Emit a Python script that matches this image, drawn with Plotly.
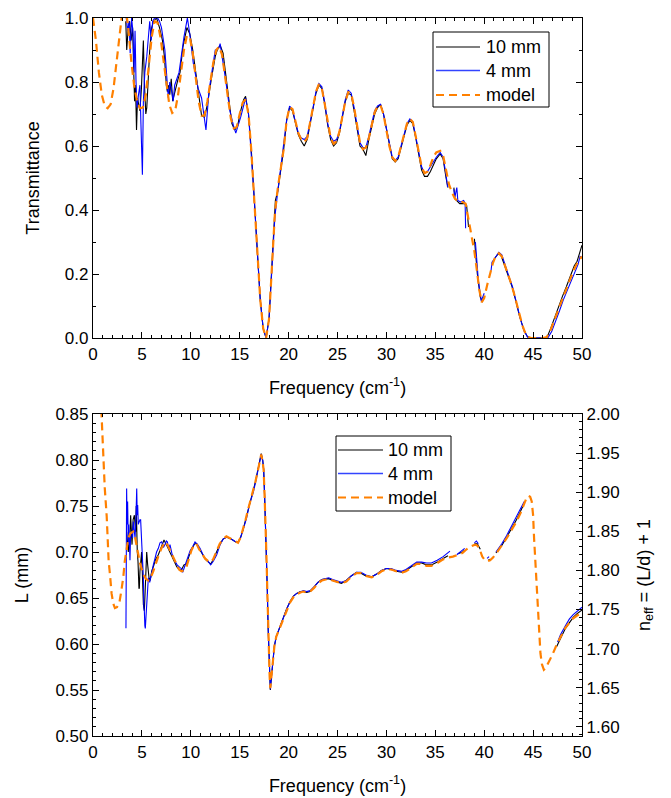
import plotly.graph_objects as go

# ---------------- Top panel: Transmittance ----------------
t_model_f = [0.0, 0.3, 0.6, 0.9, 1.2, 1.5, 1.8, 2.1, 2.4, 2.7, 3.0, 3.3, 3.6, 3.9, 4.2, 4.5, 4.8, 5.1, 5.4, 5.7,
             6.0, 6.3, 6.6, 6.9, 7.2, 7.5, 7.8, 8.1, 8.4, 8.7, 9.0, 9.3, 9.6, 9.9, 10.2, 10.5, 10.8, 11.1, 11.4, 11.7,
             12.0, 12.3, 12.6, 12.9, 13.2, 13.5, 13.8, 14.1, 14.4, 14.7, 15.0, 15.3, 15.6, 15.9, 16.2, 16.5, 16.8,
             17.1, 17.4, 17.7, 18.0, 18.3, 18.6, 18.9, 19.2, 19.5, 19.8, 20.1, 20.4, 20.7, 21.0, 21.3, 21.6, 21.9,
             22.2, 22.5, 22.8, 23.1, 23.4, 23.7, 24.0, 24.3, 24.6, 24.9, 25.2, 25.5, 25.8, 26.1, 26.4, 26.7, 27.0,
             27.3, 27.6, 27.9, 28.2, 28.5, 28.8, 29.1, 29.4, 29.7, 30.0, 30.3, 30.6, 30.9, 31.2, 31.5, 31.8, 32.1,
             32.4, 32.7, 33.0, 33.3, 33.6, 33.9, 34.2, 34.5, 34.8, 35.1, 35.5, 35.8, 36.1, 36.4, 36.7, 37.0, 37.4,
             37.8, 38.1, 38.4, 38.7, 39.0, 39.3, 39.5, 39.75, 40.0, 40.3, 40.6, 40.9, 41.2, 41.5, 41.8, 42.1, 42.4,
             42.7, 43.0, 43.3, 43.6, 43.9, 44.2, 44.5, 44.8, 45.2, 45.6, 46.0, 46.4, 46.8, 47.1, 47.4, 47.7, 48.0,
             48.4, 48.8, 49.2, 49.6, 50.0]
t_model_v = [1.00, 0.93, 0.83, 0.76, 0.725, 0.718, 0.73, 0.78, 0.86, 0.95, 1.02, 1.04, 0.97, 0.87, 0.79, 0.74,
             0.718, 0.72, 0.76, 0.85, 0.94, 0.99, 0.985, 0.94, 0.87, 0.79, 0.73, 0.703, 0.71, 0.76, 0.83, 0.90,
             0.945, 0.94, 0.89, 0.81, 0.74, 0.695, 0.695, 0.74, 0.80, 0.86, 0.90, 0.91, 0.885, 0.82, 0.75, 0.685,
             0.655, 0.66, 0.70, 0.735, 0.745, 0.70, 0.58, 0.43, 0.27, 0.12, 0.03, 0.00, 0.06, 0.22, 0.39, 0.47,
             0.53, 0.59, 0.68, 0.722, 0.715, 0.675, 0.64, 0.62, 0.612, 0.625, 0.67, 0.72, 0.77, 0.793, 0.78, 0.73,
             0.67, 0.625, 0.607, 0.615, 0.645, 0.695, 0.74, 0.768, 0.765, 0.72, 0.66, 0.61, 0.59, 0.595, 0.625,
             0.67, 0.705, 0.725, 0.727, 0.70, 0.65, 0.60, 0.565, 0.553, 0.565, 0.60, 0.64, 0.67, 0.685, 0.675,
             0.63, 0.58, 0.535, 0.515, 0.52, 0.54, 0.565, 0.58, 0.585, 0.57, 0.52, 0.48, 0.455, 0.436, 0.425,
             0.425, 0.42, 0.37, 0.325, 0.27, 0.20, 0.15, 0.112, 0.125, 0.165, 0.20, 0.235, 0.258, 0.265, 0.255,
             0.23, 0.20, 0.175, 0.145, 0.11, 0.07, 0.04, 0.015, 0.003, 0.0, 0.0, 0.0, 0.0, 0.003, 0.025, 0.05,
             0.075, 0.095, 0.12, 0.155, 0.185, 0.215, 0.24, 0.255]

t_10mm_f = [3.35, 3.45, 3.6, 3.75, 3.9, 4.05, 4.15, 4.25, 4.35, 4.45, 4.55, 4.65, 4.8, 4.95, 5.05, 5.15, 5.25,
            5.4, 5.5, 5.65, 5.8, 6.0, 6.2, 6.5, 6.8, 7.1, 7.3, 7.5, 7.6, 7.75, 7.85, 8.0, 8.15, 8.3, 8.5, 8.7,
            8.9, 9.2, 9.6, 9.9, 10.2, 10.5, 10.8, 11.1, 11.4, 11.7, 12.1, 12.5, 12.7, 13.0, 13.3, 13.6, 13.9,
            14.2, 14.5, 14.8, 15.1, 15.4, 15.6, 15.9, 16.2, 16.5, 16.8, 17.1, 17.4, 17.7, 18.0, 18.3, 18.55,
            18.65, 18.9, 19.2, 19.5, 19.8, 20.1, 20.4, 20.7, 21.0, 21.3, 21.6, 21.9, 22.2, 22.5, 22.8, 23.1,
            23.4, 23.7, 24.0, 24.3, 24.6, 24.9, 25.2, 25.5, 25.8, 26.1, 26.4, 26.7, 27.0, 27.3, 27.6, 27.9,
            28.2, 28.5, 28.8, 29.1, 29.4, 29.7, 30.0, 30.3, 30.6, 30.9, 31.2, 31.5, 31.8, 32.1, 32.4, 32.7,
            33.0, 33.3, 33.6, 33.9, 34.2, 34.5, 34.8, 35.1, 35.5, 35.8, 36.1, 36.3, None, 36.9, 37.0, 37.5,
            38.0, 38.2, 38.4, None, 39.0, 39.3, 39.6, 39.8, 40.0, None, 41.1, 41.4, 41.7, 42.0, 42.4, 42.8,
            43.2, 43.6, 44.0, 44.4, 44.8, 45.6, 46.4, 46.8, 47.2, 47.6, 48.0, 48.4, 48.8, 49.2, 49.5, 49.8, 50.0]
t_10mm_v = [0.99, 0.90, 0.97, 0.99, 0.93, 0.97, 0.85, 0.74, 0.79, 0.65, 0.75, 0.73, 0.71, 0.78, 0.85, 0.93,
            0.80, 0.70, 0.72, 0.82, 0.90, 0.97, 0.99, 1.0, 0.97, 0.93, 0.88, 0.79, 0.77, 0.79, 0.76, 0.81, 0.74,
            0.76, 0.79, 0.81, 0.83, 0.91, 0.97, 0.95, 0.90, 0.83, 0.76, 0.695, 0.69, 0.73, 0.81, 0.88, 0.90,
            0.915, 0.89, 0.82, 0.74, 0.67, 0.65, 0.665, 0.71, 0.745, 0.755, 0.70, 0.58, 0.43, 0.27, 0.12, 0.03,
            0.0, 0.06, 0.22, 0.36, 0.43, 0.46, 0.52, 0.59, 0.68, 0.72, 0.71, 0.67, 0.635, 0.615, 0.60, 0.62,
            0.665, 0.72, 0.765, 0.79, 0.78, 0.73, 0.665, 0.62, 0.60, 0.61, 0.64, 0.69, 0.74, 0.765, 0.76, 0.71,
            0.65, 0.60, 0.59, 0.57, 0.62, 0.665, 0.70, 0.72, 0.73, 0.70, 0.65, 0.60, 0.56, 0.55, 0.56, 0.595,
            0.635, 0.665, 0.68, 0.67, 0.625, 0.57, 0.525, 0.505, 0.505, 0.52, 0.54, 0.56, 0.575, 0.56, 0.50,
            0.47, None, 0.47, 0.435, 0.42, 0.42, 0.415, 0.347, None, 0.31, 0.20, 0.128, 0.112, 0.13, None, 0.25,
            0.262, 0.26, 0.235, 0.20, 0.165, 0.12, 0.07, 0.03, 0.005, 0.0, 0.0, 0.0, 0.03, 0.065, 0.10, 0.13,
            0.16, 0.19, 0.225, 0.24, 0.27, 0.29]

t_4mm_f = [3.4, 3.55, 3.7, 3.8, 3.95, 4.1, 4.2, 4.3, 4.4, 4.5, 4.65, 4.8, 4.9, 5.05, 5.15, 5.3, 5.5, 5.65, 5.8,
           5.95, 6.1, 6.3, 6.6, 6.8, 7.0, 7.35, 7.55, 7.7, 7.85, 8.0, 8.2, 8.35, 8.8, 9.3, 9.65, 9.9, 10.25,
           10.75, 11.1, 11.55, 11.85, 12.35, 12.5, 12.85, 13.0, 13.5, 14.0, 14.35, 14.6, 15.1, 15.6, 15.9, 16.2,
           16.5, 16.8, 17.1, 17.4, 17.7, 18.0, 18.3, 18.6, 18.9, 19.2, 19.5, 19.8, 20.1, 20.4, 20.7, 21.0, 21.3,
           21.6, 21.9, 22.2, 22.5, 22.8, 23.1, 23.4, 23.7, 24.0, 24.3, 24.6, 24.9, 25.2, 25.5, 25.8, 26.1,
           26.4, 26.7, 27.0, 27.3, 27.6, 27.9, 28.2, 28.5, 28.8, 29.1, 29.4, 29.7, 30.0, 30.3, 30.6, 30.9,
           31.2, 31.5, 31.8, 32.1, 32.4, 32.7, 33.0, 33.3, 33.6, 33.9, 34.2, 34.5, 34.8, 35.1, 35.5, 35.8,
           36.1, 36.25, None, 36.9, 37.0, 37.2, 37.3, 37.6, 37.9, 38.05, 38.1, None, 39.1, 39.4, 39.7, 39.9,
           40.0, None, 40.7, 40.8, 41.1, 41.5, 41.8, 42.1, 42.5, 42.9, 43.3, 43.7, 44.1, 44.5, 45.5, 46.5,
           46.9, 47.3, 47.7, 48.1, 48.5, 48.9, 49.3, 49.6, 49.8, 50.0]
t_4mm_v = [1.0, 0.96, 0.99, 0.89, 1.0, 0.95, 0.83, 0.96, 0.80, 0.72, 0.76, 0.79, 0.67, 0.51, 0.74, 0.83, 0.88,
           0.93, 0.99, 0.93, 0.99, 1.0, 1.0, 0.99, 0.97, 0.90, 0.81, 0.75, 0.80, 0.78, 0.74, 0.79, 0.83, 0.94,
           1.0, 0.95, 0.86, 0.78, 0.75, 0.65, 0.77, 0.88, 0.90, 0.905, 0.92, 0.82, 0.71, 0.665, 0.64, 0.69,
           0.75, 0.70, 0.58, 0.43, 0.27, 0.12, 0.03, 0.0, 0.06, 0.23, 0.38, 0.46, 0.53, 0.595, 0.68, 0.725,
           0.715, 0.675, 0.64, 0.625, 0.62, 0.63, 0.67, 0.72, 0.77, 0.795, 0.785, 0.735, 0.67, 0.63, 0.615,
           0.62, 0.645, 0.695, 0.745, 0.775, 0.765, 0.72, 0.66, 0.61, 0.595, 0.595, 0.63, 0.67, 0.71, 0.725,
           0.73, 0.70, 0.655, 0.60, 0.565, 0.555, 0.565, 0.60, 0.64, 0.67, 0.685, 0.675, 0.63, 0.58, 0.535,
           0.515, 0.52, 0.535, 0.55, 0.565, 0.58, 0.565, 0.51, 0.472, None, 0.465, 0.44, 0.47, 0.43, 0.425,
           0.43, 0.42, 0.343, None, 0.30, 0.18, 0.115, 0.13, 0.14, None, 0.21, 0.237, 0.25, 0.268, 0.26,
           0.235, 0.195, 0.16, 0.11, 0.06, 0.02, 0.0, 0.0, 0.0, 0.02, 0.05, 0.085, 0.12, 0.15, 0.18, 0.21,
           0.23, 0.255, 0.25]

# ---------------- Bottom panel: L (mm) ----------------
l_model_f = [0.85, 0.9, 1.05, 1.2, 1.4, 1.6, 1.75, 1.9, 2.07, 2.24, 2.45, 2.7, 2.9, 3.1, 3.25, 3.4, 3.6, 3.8,
             4.1, 4.3, 4.5, 4.8, 5.1, 5.4, 5.65, 5.9, 6.16, 6.4, 6.67, 7.0, 7.35, 7.6, 7.86, 8.2, 8.54, 8.8,
             9.05, 9.3, 9.56, 9.8, 10.07, 10.35, 10.58, 10.85, 11.1, 11.45, 11.77, 12.05, 12.28, 12.6, 12.96,
             13.3, 13.64, 14.0, 14.3, 14.6, 14.83, 15.1, 15.34, 15.6, 15.85, 16.1, 16.36, 16.6, 16.87, 17.05,
             17.2, 17.35, 17.45, 17.55, 17.65, 17.75, 17.82, 17.9, 17.99, 18.06, 18.13, 18.25, 18.4, 18.55,
             18.74, 19.1, 19.42, 19.8, 20.14, 20.5, 20.83, 21.2, 21.5, 21.85, 22.2, 22.6, 23.0, 23.4, 23.8,
             24.1, 24.5, 25.0, 25.4, 25.9, 26.4, 26.96, 27.4, 27.9, 28.5, 29.0, 29.5, 30.0, 30.5, 31.0, 31.56,
             32.0, 32.5, 33.1, 33.6, 34.1, 34.6, 35.2, 35.8, 36.3, 36.8, 37.35, 37.8, 38.2, 38.6, 39.06, 39.3,
             39.57, 39.8, 40.08, 40.35, 40.6, 40.9, 41.27, 41.8, 42.3, 42.8, 43.3, 43.7, 44.0, 44.3, 44.5,
             44.7, 44.86, 45.0, 45.1, 45.25, 45.37, 45.5, 45.6, 45.75, 45.9, 46.1, 46.3, 46.56, 47.0, 47.4,
             47.8, 48.26, 48.7, 49.1, 49.5, 49.86, 50.0]
l_model_v = [0.855, 0.84, 0.804, 0.77, 0.739, 0.69, 0.674, 0.655, 0.644, 0.639, 0.64, 0.645, 0.658, 0.673,
             0.69, 0.703, 0.714, 0.72, 0.722, 0.716, 0.705, 0.688, 0.677, 0.671, 0.669, 0.672, 0.679, 0.687,
             0.695, 0.704, 0.711, 0.708, 0.702, 0.694, 0.686, 0.681, 0.679, 0.680, 0.684, 0.693, 0.702, 0.708,
             0.709, 0.703, 0.699, 0.693, 0.690, 0.689, 0.692, 0.700, 0.709, 0.714, 0.717, 0.715, 0.713, 0.711,
             0.710, 0.716, 0.724, 0.735, 0.746, 0.756, 0.764, 0.776, 0.789, 0.799, 0.806, 0.798, 0.789, 0.760,
             0.731, 0.690, 0.659, 0.620, 0.586, 0.565, 0.552, 0.565, 0.586, 0.598, 0.608, 0.618, 0.626, 0.637,
             0.645, 0.651, 0.654, 0.656, 0.657, 0.656, 0.657, 0.661, 0.666, 0.669, 0.670, 0.671, 0.669, 0.667,
             0.666, 0.668, 0.673, 0.677, 0.677, 0.674, 0.6725, 0.675, 0.679, 0.6815, 0.681, 0.679, 0.6775,
             0.679, 0.683, 0.687, 0.687, 0.685, 0.685, 0.688, 0.692, 0.694, 0.695, 0.697, 0.699, 0.703, 0.706,
             0.708, 0.707, 0.702, 0.695, 0.691, 0.690, 0.691, 0.694, 0.699, 0.707, 0.715, 0.724, 0.733, 0.742,
             0.751, 0.758, 0.761, 0.760, 0.755, 0.740, 0.715, 0.685, 0.660, 0.630, 0.606, 0.590, 0.578, 0.572,
             0.574, 0.579, 0.589, 0.599, 0.608, 0.617, 0.623, 0.628, 0.631, 0.633, 0.634]

l_10mm_f = [3.44, 3.52, 3.61, 3.7, 3.78, 3.85, 3.92, 3.99, 4.1, 4.23, 4.3, 4.36, 4.42, 4.47, 4.53, 4.6, 4.64,
            4.7, 4.74, 4.8, 4.9, 4.97, 5.04, 5.1, 5.15, 5.25, 5.32, 5.38, 5.45, 5.49, 5.59, 5.73, 5.85, 6.0,
            6.2, 6.4, 6.68, 6.95, 7.26, 7.5, 7.87, 8.2, 8.56, 8.8, 9.07, 9.3, 9.56, 9.8, 10.07, 10.4, 10.6,
            10.9, 11.2, 11.5, 11.8, 12.05, 12.3, 12.6, 13.0, 13.3, 13.64, 14.0, 14.3, 14.6, 14.85, 15.1, 15.34,
            15.6, 15.85, 16.1, 16.36, 16.6, 16.87, 17.05, 17.2, 17.35, 17.45, 17.55, 17.65, 17.75, 17.82, 17.9,
            17.99, 18.06, 18.13, 18.25, 18.4, 18.55, 18.74, 19.1, 19.42, 19.8, 20.14, 20.5, 20.83, 21.2, 21.5,
            21.85, 22.2, 22.6, 23.0, 23.4, 23.8, 24.1, 24.5, 25.0, 25.4, 25.9, 26.4, 26.96, 27.4, 27.9, 28.5,
            29.0, 29.5, 30.0, 30.5, 31.0, 31.56, 32.0, 32.5, 33.1, 33.6, 34.1, 34.6, 35.2, 35.8, 36.3, None,
            37.3, 37.8, 38.0, None, 39.0, 39.3, 39.6, None, 40.4, 40.6, None, 41.2, 41.8, 42.3, 42.8, 43.3,
            43.7, 44.1, None, 47.4, 47.8, 48.26, 48.7, 49.1, 49.5, 50.0]
l_10mm_v = [0.722, 0.705, 0.700, 0.715, 0.720, 0.740, 0.715, 0.708, 0.735, 0.740, 0.730, 0.722, 0.750, 0.711,
            0.700, 0.690, 0.679, 0.660, 0.661, 0.679, 0.690, 0.700, 0.679, 0.660, 0.643, 0.636, 0.655, 0.661,
            0.690, 0.700, 0.686, 0.672, 0.669, 0.679, 0.685, 0.692, 0.697, 0.705, 0.713, 0.708, 0.700, 0.692,
            0.684, 0.681, 0.681, 0.686, 0.687, 0.695, 0.703, 0.709, 0.709, 0.703, 0.698, 0.692, 0.689, 0.687,
            0.692, 0.700, 0.709, 0.714, 0.716, 0.715, 0.713, 0.711, 0.711, 0.716, 0.724, 0.735, 0.746, 0.756,
            0.765, 0.776, 0.790, 0.800, 0.807, 0.800, 0.790, 0.760, 0.730, 0.690, 0.660, 0.620, 0.586, 0.563,
            0.550, 0.565, 0.586, 0.598, 0.608, 0.619, 0.627, 0.638, 0.646, 0.652, 0.655, 0.657, 0.657, 0.656,
            0.657, 0.662, 0.667, 0.670, 0.671, 0.671, 0.669, 0.667, 0.666, 0.669, 0.674, 0.678, 0.677, 0.674,
            0.673, 0.676, 0.680, 0.682, 0.681, 0.679, 0.678, 0.680, 0.684, 0.688, 0.688, 0.686, 0.686, 0.689,
            0.693, 0.696, None, 0.698, 0.700, 0.702, None, 0.709, 0.709, 0.703, None, 0.691, 0.692, None, 0.699,
            0.707, 0.716, 0.725, 0.735, 0.744, 0.753, None, 0.597, 0.606, 0.616, 0.623, 0.629, 0.633, 0.637]

l_4mm_f = [3.37, 3.40, 3.44, 3.48, 3.54, 3.58, 3.61, 3.66, 3.72, 3.78, 3.85, 3.95, 4.05, 4.12, 4.2, 4.3, 4.4,
           4.47, 4.52, 4.57, 4.63, 4.7, 4.8, 4.87, 4.93, 4.97, 5.05, 5.15, 5.2, 5.25, 5.3, 5.35, 5.42, 5.49,
           5.58, 5.66, 5.8, 6.0, 6.17, 6.34, 6.5, 6.68, 6.85, 7.02, 7.2, 7.36, 7.5, 7.6, 7.75, 7.87, 8.1, 8.38,
           8.6, 8.9, 9.05, 9.17, 9.35, 9.58, 9.75, 9.92, 10.2, 10.43, 10.7, 10.94, 11.2, 11.45, 11.75, 12.03,
           12.3, 12.65, 13.0, 13.3, 13.67, 14.0, 14.3, 14.6, 14.86, 15.1, 15.34, 15.71, 16.0, 16.4, 16.7,
           17.08, 17.2, 17.35, 17.45, 17.55, 17.65, 17.75, 17.82, 17.9, 17.99, 18.06, 18.13, 18.25, 18.4,
           18.55, 18.74, 19.1, 19.42, 19.8, 20.14, 20.5, 20.83, 21.2, 21.5, 21.85, 22.2, 22.6, 23.0, 23.4,
           23.8, 24.1, 24.5, 25.0, 25.4, 25.9, 26.4, 26.96, 27.4, 27.9, 28.5, 29.0, 29.5, 30.0, 30.5, 31.0,
           31.56, 32.0, 32.5, 33.1, 33.6, 34.1, 34.6, 35.2, 35.8, 36.2, 36.5, None, 37.2, 37.5, 37.8, 38.0,
           None, 39.0, 39.2, 39.4, None, 40.3, 40.5, None, 41.2, 41.8, 42.3, 42.8, 43.3, 43.7, 44.1, None,
           47.5, 47.8, 48.26, 48.7, 49.1, 49.5, 50.0]
l_4mm_v = [0.617, 0.700, 0.769, 0.730, 0.755, 0.720, 0.708, 0.730, 0.700, 0.691, 0.720, 0.722, 0.715, 0.733,
           0.725, 0.715, 0.740, 0.769, 0.740, 0.751, 0.730, 0.733, 0.735, 0.735, 0.720, 0.708, 0.690, 0.672,
           0.640, 0.636, 0.620, 0.617, 0.630, 0.643, 0.660, 0.672, 0.667, 0.679, 0.686, 0.693, 0.700, 0.704,
           0.710, 0.711, 0.705, 0.708, 0.712, 0.711, 0.703, 0.708, 0.697, 0.690, 0.686, 0.683, 0.682, 0.678,
           0.684, 0.690, 0.695, 0.701, 0.706, 0.711, 0.708, 0.704, 0.698, 0.693, 0.690, 0.686, 0.690, 0.697,
           0.708, 0.714, 0.716, 0.715, 0.713, 0.711, 0.711, 0.716, 0.724, 0.737, 0.752, 0.765, 0.780, 0.799,
           0.806, 0.800, 0.790, 0.760, 0.730, 0.690, 0.660, 0.620, 0.586, 0.564, 0.551, 0.565, 0.586, 0.598,
           0.608, 0.619, 0.627, 0.638, 0.646, 0.652, 0.655, 0.657, 0.658, 0.657, 0.658, 0.662, 0.667, 0.670,
           0.671, 0.672, 0.670, 0.668, 0.667, 0.669, 0.674, 0.678, 0.678, 0.675, 0.673, 0.676, 0.680, 0.682,
           0.682, 0.680, 0.679, 0.681, 0.685, 0.689, 0.689, 0.688, 0.688, 0.691, 0.695, 0.698, 0.701, None,
           0.697, 0.700, 0.702, 0.704, None, 0.710, 0.712, 0.709, None, 0.693, 0.695, None, 0.700, 0.709,
           0.718, 0.728, 0.738, 0.747, 0.755, None, 0.602, 0.610, 0.619, 0.627, 0.632, 0.636, 0.640]

x_ticks = [0, 5, 10, 15, 20, 25, 30, 35, 40, 45, 50]
d_mm = 0.85  # sample thickness linking L and n_eff = L/d + 1
L_range = [0.50, 0.85]
legend_names = ["10 mm", "4 mm", "model"]

BLACK = "#000000"
BLUE = "#0000FF"
ORANGE = "#FF8000"
FONT = "Liberation Sans, Arial, sans-serif"
styles = [dict(color=BLACK, width=1.1), dict(color=BLUE, width=1.1),
          dict(color=ORANGE, width=2.2, dash="8px,5px")]
legend_styles = [dict(color=BLACK, width=1.2), dict(color="#3344FF", width=1.5),
                 dict(color=ORANGE, width=2.2, dash="8px,5px")]

fig = go.Figure()

def add_set(series, xa, ya):
    for (fx, vy), name, st in zip(series, legend_names, styles):
        fig.add_trace(go.Scatter(x=fx, y=vy, mode="lines", name=name, line=st,
                                 xaxis=xa, yaxis=ya, showlegend=False))

add_set([(t_10mm_f, t_10mm_v), (t_4mm_f, t_4mm_v), (t_model_f, t_model_v)], "x", "y")
add_set([(l_10mm_f, l_10mm_v), (l_4mm_f, l_4mm_v), (l_model_f, l_model_v)], "x2", "y2")

# empty placeholder trace so the right-hand n_eff axis is drawn
fig.add_trace(go.Scatter(x=[None], y=[None], mode="lines", xaxis="x2", yaxis="y3",
                         showlegend=False, hoverinfo="skip"))

# ---- page geometry (pixels) ----
W, H = 671, 798
ML, MR, MT, MB = 93, 89, 18, 40
PW, PH = W - ML - MR, H - MT - MB

def px(xp):
    return (xp - ML) / PW

def py(yp):
    return (H - MB - yp) / PH

# drawn legends (box, sample lines, labels), positioned in pixels
shapes, annotations = [], []
def legend_box(x0, y0, x1, y1, line_x0, line_x1, text_x, rows):
    shapes.append(dict(type="rect", xref="paper", yref="paper", x0=px(x0), x1=px(x1), y0=py(y1), y1=py(y0),
                       line=dict(color="black", width=1), fillcolor="white", layer="above"))
    for yrow, name, st in zip(rows, legend_names, legend_styles):
        shapes.append(dict(type="line", xref="paper", yref="paper", x0=px(line_x0), x1=px(line_x1),
                           y0=py(yrow), y1=py(yrow), layer="above",
                           line=dict(color=st["color"], width=st["width"], dash=st.get("dash", "solid"))))
        annotations.append(dict(text=name, xref="paper", yref="paper", x=px(text_x), y=py(yrow),
                                xanchor="left", yanchor="middle", showarrow=False,
                                font=dict(family=FONT, size=18, color="black")))

legend_box(433, 32, 549, 107, 436, 480, 484, [47, 70.5, 95])
legend_box(336, 436, 451, 511, 338, 383, 386, [450, 473.5, 497.5])

tickfont = dict(family=FONT, size=17, color="black")
titlefont = dict(family=FONT, size=18, color="black")

common_x = dict(range=[0, 50], tickvals=x_ticks, ticks="inside", ticklen=6, tickwidth=1, tickcolor="black",
                showline=True, linecolor="black", linewidth=1.2, mirror="ticks", showgrid=False, zeroline=False,
                automargin=False,
                minor=dict(dtick=1, ticks="inside", ticklen=3, tickcolor="black", tickwidth=1),
                tickfont=tickfont, title=dict(text="Frequency (cm<sup>-1</sup>)", font=titlefont, standoff=18))

fig.update_layout(
    width=W, height=H,
    margin=dict(l=ML, r=MR, t=MT, b=MB),
    paper_bgcolor="white", plot_bgcolor="white",
    showlegend=False,
    shapes=shapes, annotations=annotations,
    xaxis=dict(common_x, anchor="y", domain=[0, 1]),
    xaxis2=dict(common_x, anchor="y2", domain=[0, 1]),
    yaxis=dict(domain=[py(338), py(18)], range=[0, 1], dtick=0.2, tickformat=".1f", ticks="inside", ticklen=6,
               tickcolor="black", showline=True, linecolor="black", linewidth=1.2, mirror="ticks",
               showgrid=False, zeroline=False, tickfont=tickfont, automargin=False,
               minor=dict(dtick=0.1, ticks="inside", ticklen=3, tickcolor="black"),
               title=dict(text="Transmittance", font=titlefont, standoff=20)),
    yaxis2=dict(domain=[py(736), py(414)], range=L_range, dtick=0.05, tickformat=".2f", ticks="inside",
                ticklen=6, tickcolor="black", showline=True, linecolor="black", linewidth=1.2, mirror=False,
                showgrid=False, zeroline=False, tickfont=tickfont, anchor="x2", automargin=False,
                minor=dict(dtick=0.01, ticks="inside", ticklen=3, tickcolor="black"),
                title=dict(text="L (mm)", font=titlefont, standoff=22)),
    yaxis3=dict(overlaying="y2", side="right", anchor="x2",
                range=[1 + L_range[0] / d_mm, 1 + L_range[1] / d_mm], dtick=0.05, tick0=1.6,
                tickformat=".2f", ticks="inside", ticklen=6, tickcolor="black", showline=True,
                linecolor="black", linewidth=1.2, showgrid=False, zeroline=False, tickfont=tickfont,
                automargin=False,
                minor=dict(dtick=0.01, ticks="inside", ticklen=3, tickcolor="black"),
                title=dict(text="n<sub>eff</sub> = (L/d) + 1", font=titlefont, standoff=18)),
)

fig.write_html("out.html")
